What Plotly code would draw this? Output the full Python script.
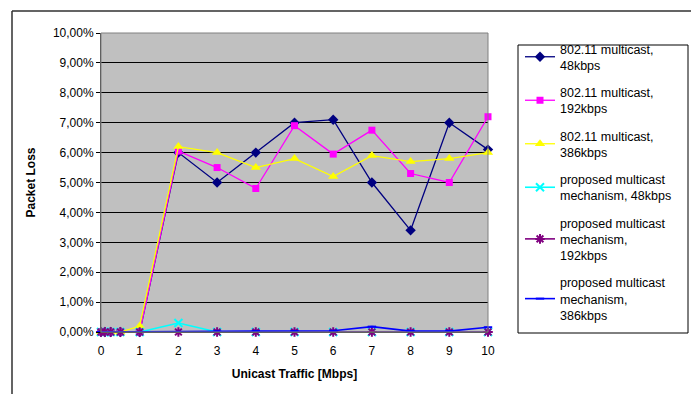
import plotly.graph_objects as go

x_vals = [0, 0.1, 0.25, 0.5, 1, 2, 3, 4, 5, 6, 7, 8, 9, 10]

mc_48 = [0, 0, 0, 0, 0, 6.0, 5.0, 6.0, 7.0, 7.1, 5.0, 3.4, 7.0, 6.1]
mc_192 = [0, 0, 0, 0, 0, 6.05, 5.5, 4.8, 6.9, 5.95, 6.75, 5.3, 5.0, 7.2]
mc_386 = [0, 0, 0, 0, 0.2, 6.2, 6.0, 5.5, 5.8, 5.2, 5.9, 5.7, 5.8, 6.0]
pr_48 = [0, 0, 0, 0, 0, 0.3, 0, 0, 0, 0, 0, 0, 0, 0]
pr_192 = [0, 0, 0, 0, 0, 0, 0, 0, 0, 0, 0, 0, 0, 0]
pr_386 = [0, 0, 0, 0, 0, 0, 0.02, 0.03, 0.03, 0.04, 0.18, 0.03, 0.03, 0.16]

names = [
    "802.11 multicast,<br>48kbps",
    "802.11 multicast,<br>192kbps",
    "802.11 multicast,<br>386kbps",
    "proposed multicast<br>mechanism, 48kbps",
    "proposed multicast<br>mechanism,<br>192kbps",
    "proposed multicast<br>mechanism,<br>386kbps",
]

y_tickvals = [0, 1, 2, 3, 4, 5, 6, 7, 8, 9, 10]
y_ticktext = ["0,00%", "1,00%", "2,00%", "3,00%", "4,00%", "5,00%",
              "6,00%", "7,00%", "8,00%", "9,00%", "10,00%"]
x_tickvals = [0, 1, 2, 3, 4, 5, 6, 7, 8, 9, 10]

series = [mc_48, mc_192, mc_386, pr_48, pr_192, pr_386]
styles = [
    dict(color="#000080", symbol="diamond", size=8),
    dict(color="#FF00FF", symbol="square", size=7),
    dict(color="#FFFF00", symbol="triangle-up", size=9),
    dict(color="#00FFFF", symbol="x-thin-open", size=8),
    dict(color="#800080", symbol="asterisk-open", size=8),
    dict(color="#0000FF", symbol="line-ew-open", size=6),
]

FONT = "Arial, 'Liberation Sans', sans-serif"

fig = go.Figure()
for i, (ys, st, nm) in enumerate(zip(series, styles, names)):
    open_sym = st["symbol"].endswith("open")
    fig.add_trace(go.Scatter(
        x=x_vals, y=ys, name=nm, mode="lines+markers",
        legendgroup=f"g{i}",
        line=dict(color=st["color"], width=1.3 if i < 3 else 1.6),
        marker=dict(symbol=st["symbol"], size=st["size"], color=st["color"],
                    line=dict(color=st["color"], width=2 if open_sym else 0)),
        cliponaxis=False,
    ))

W, H = 691, 394
L, R, T, B = 101, 488, 33, 332


def px(v):
    return (v - L) / (R - L)


def py(v):
    return (B - v) / (B - T)


fig.update_layout(
    width=W, height=H,
    margin=dict(l=L, r=W - R, t=T, b=H - B, autoexpand=False),
    paper_bgcolor="white",
    plot_bgcolor="#C0C0C0",
    font=dict(family=FONT, size=12, color="black"),
    showlegend=True,
    legend=dict(
        x=px(520), y=py(34), xanchor="left", yanchor="top",
        bgcolor="rgba(0,0,0,0)", borderwidth=0,
        font=dict(family=FONT, size=12.5, color="black"),
        tracegroupgap=8,
        itemwidth=30,
    ),
    xaxis=dict(
        range=[0, 10], tickvals=x_tickvals, showgrid=False, zeroline=False,
        showline=True, linecolor="#404040", linewidth=1,
        ticks="", tickfont=dict(size=12), ticklabelstandoff=8,
        title=dict(text="<b>Unicast Traffic [Mbps]</b>", font=dict(size=12), standoff=12),
    ),
    yaxis=dict(
        range=[0, 10], tickvals=y_tickvals, ticktext=y_ticktext,
        showgrid=True, gridcolor="black", gridwidth=1, zeroline=False,
        showline=True, linecolor="#404040", linewidth=1,
        ticks="outside", ticklen=4, tickcolor="black", tickfont=dict(size=12),
        title=dict(text="<b>Packet Loss</b>", font=dict(size=12), standoff=14),
    ),
    shapes=[
        dict(type="rect", xref="paper", yref="paper", x0=0, y0=0, x1=1, y1=1,
             line=dict(color="#808080", width=1), fillcolor="rgba(0,0,0,0)"),
        dict(type="line", xref="paper", yref="paper", x0=px(12), x1=px(12),
             y0=py(11), y1=py(400), line=dict(color="#303030", width=1.5)),
        dict(type="line", xref="paper", yref="paper", x0=px(12), x1=px(700),
             y0=py(11), y1=py(11), line=dict(color="#303030", width=1.5)),
        dict(type="rect", xref="paper", yref="paper", x0=px(518), x1=px(688),
             y0=py(45), y1=py(333), line=dict(color="black", width=1),
             fillcolor="rgba(0,0,0,0)"),
    ],
)

fig.write_html("out.html", config={"displayModeBar": False},
               post_script="document.body.style.margin='0';")
